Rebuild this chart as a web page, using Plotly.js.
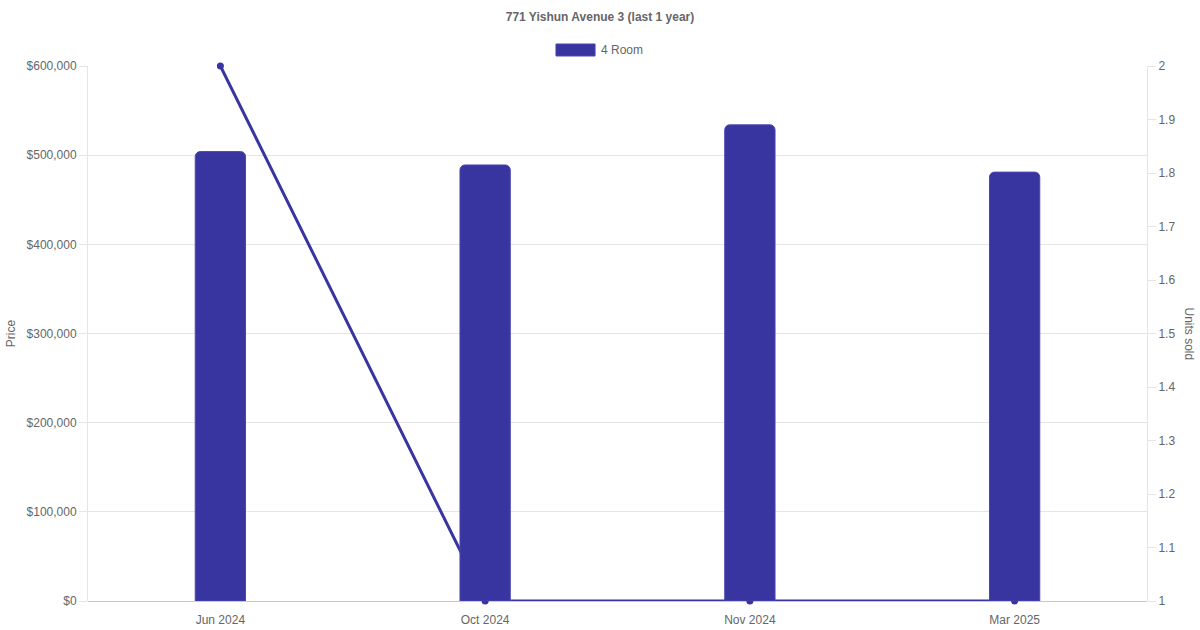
<!DOCTYPE html>
<html>
<head>
<meta charset="utf-8">
<script src="https://cdn.plot.ly/plotly-3.0.1.min.js"></script>
<style>html,body{margin:0;padding:0;background:#fff;}#chart{width:1200px;height:630px;}</style>
</head>
<body>
<div id="chart"></div>
<script>
const months = ["Jun 2024", "Oct 2024", "Nov 2024", "Mar 2025"];
const prices = [504000, 489000, 534000, 481000];
const unitsSold = [2, 1, 1, 1];
const seriesName = "4 Room";
const chartTitle = "771 Yishun Avenue 3 (last 1 year)";
const priceTicks = [0, 100000, 200000, 300000, 400000, 500000, 600000];
const priceTickLabels = ["$0", "$100,000", "$200,000", "$300,000", "$400,000", "$500,000", "$600,000"];
const unitTicks = [1, 1.1, 1.2, 1.3, 1.4, 1.5, 1.6, 1.7, 1.8, 1.9, 2];

const col = "rgb(57,53,160)";
const txt = "#666";
const grid = "#e5e5e5";
const fontFam = "Liberation Sans, Arial, Helvetica, sans-serif";

const traces = [
  {
    type: "scatter", mode: "lines+markers",
    x: months, y: unitsSold, yaxis: "y",
    line: {color: col, width: 3},
    marker: {color: col, size: 7},
    showlegend: false, cliponaxis: false, hoverinfo: "x+y"
  },
  {
    type: "bar", x: months, y: prices, yaxis: "y2", name: seriesName,
    width: 0.19,
    marker: {color: col, line: {color: "rgb(75,70,175)", width: 1}},
    showlegend: false
  }
];

const layout = {
  width: 1200, height: 630,
  margin: {l: 88, r: 53, t: 66, b: 29},
  paper_bgcolor: "#fff", plot_bgcolor: "#fff",
  font: {family: fontFam, size: 12, color: txt},
  barcornerradius: 5,
  title: {text: "<b>" + chartTitle + "</b>", x: 0.5, xref: "container", y: 0.973, yanchor: "middle",
          font: {family: fontFam, size: 12, color: txt}},
  showlegend: false,
  xaxis: {
    type: "category", range: [-0.5, 3.5], showgrid: false, zeroline: false,
    showline: false, ticks: "", ticklabelstandoff: 10, tickfont: {size: 12, color: txt}
  },
  yaxis: {
    side: "right", range: [1, 2], tickvals: unitTicks, ticktext: unitTicks.map(String),
    showgrid: false, zeroline: false, showline: true, linecolor: grid, linewidth: 1,
    ticks: "outside", ticklen: 8, tickcolor: grid, tickfont: {size: 12, color: txt}
  },
  yaxis2: {
    overlaying: "y", side: "left", range: [0, 600000], tickmode: "array",
    tickvals: priceTicks, ticktext: priceTickLabels,
    showgrid: true, gridcolor: grid, gridwidth: 1, zeroline: true, zerolinecolor: "#c8c8c8", zerolinewidth: 1,
    showline: true, linecolor: grid, linewidth: 1,
    ticks: "outside", ticklen: 8, tickcolor: grid, tickfont: {size: 12, color: txt},
    title: {text: "Price", standoff: 8, font: {size: 12, color: txt}}
  },
  shapes: [
    {type: "rect", xref: "paper", yref: "paper", x0: 0.4419, x1: 0.4788, y0: 1.0187, y1: 1.0411,
     fillcolor: col, line: {color: "rgb(75,70,175)", width: 1}}
  ],
  annotations: [
    {text: seriesName, xref: "paper", yref: "paper", x: 0.4826, y: 1.0299, xanchor: "left", yanchor: "middle",
     showarrow: false, font: {size: 12, color: txt}},
    {text: "Units sold", xref: "paper", yref: "paper", x: 1.0, xshift: 42, y: 0.5, xanchor: "center", yanchor: "middle",
     textangle: 90, showarrow: false, font: {size: 12, color: txt}}
  ]
};

Plotly.newPlot("chart", traces, layout, {displayModeBar: false, staticPlot: true});
</script>
</body>
</html>
